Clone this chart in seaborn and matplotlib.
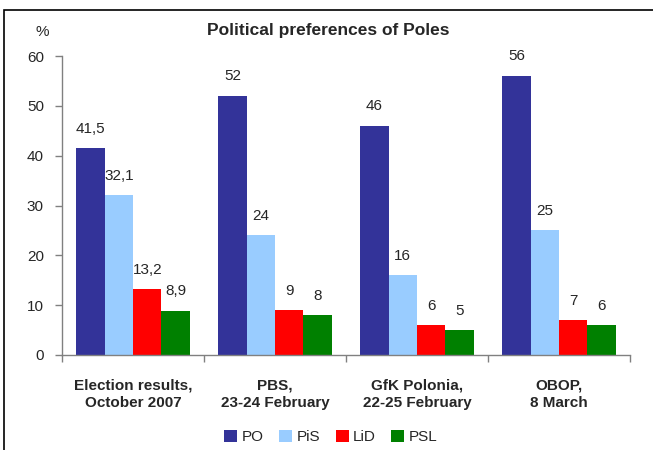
import pandas as pd
import matplotlib.pyplot as plt
import seaborn as sns
from matplotlib.patches import Rectangle

polls = ['Election results,\nOctober 2007', 'PBS,\n23-24 February',
         'GfK Polonia,\n22-25 February', 'OBOP,\n8 March']
parties = ['PO', 'PiS', 'LiD', 'PSL']
po = [41.5, 52, 46, 56]
pis = [32.1, 24, 16, 25]
lid = [13.2, 9, 6, 7]
psl = [8.9, 8, 5, 6]
colors = ['#333399', '#99CCFF', '#FF0000', '#008000']

rows = []
for party, vals in zip(parties, [po, pis, lid, psl]):
    for poll, v in zip(polls, vals):
        rows.append({'poll': poll, 'party': party, 'value': v})
df = pd.DataFrame(rows)

sns.set_style('white')
plt.rcParams['font.family'] = ['Liberation Sans', 'DejaVu Sans']

fig = plt.figure(figsize=(6.53, 4.5), dpi=100)
ax = fig.add_axes([62 / 653, 1 - 355 / 450, 568 / 653, 299 / 450])

sns.barplot(data=df, x='poll', y='value', hue='party', order=polls,
            hue_order=parties, palette=colors, saturation=1, width=0.8,
            linewidth=0, ax=ax, legend=True)

# value labels with decimal comma
for cont in ax.containers:
    labels = [f'{b.get_height():g}'.replace('.', ',') for b in cont]
    ax.bar_label(cont, labels=labels, padding=9, fontsize=11)

ax.set_ylim(0, 60)
ax.set_xlim(-0.5, 3.5)
ax.set_yticks(range(0, 61, 10))
ax.set_xlabel('')
ax.set_ylabel('')
ax.set_xticks(range(4))
ax.set_xticklabels(polls, fontweight='bold', fontsize=11, linespacing=1.35)
ax.set_xticks([-0.5, 0.5, 1.5, 2.5, 3.5], minor=True)
ax.tick_params(axis='x', which='major', length=0, pad=17)
ax.tick_params(axis='x', which='minor', length=5, width=1, color='#808080', direction='out', bottom=True)
ax.tick_params(axis='y', length=5, width=1, color='#808080', direction='out', left=True,
               labelsize=11, pad=8)

sns.despine(ax=ax)
for s in ['left', 'bottom']:
    ax.spines[s].set_color('#808080')
    ax.spines[s].set_linewidth(1)

ax.legend(loc='center', bbox_to_anchor=(331 / 653, 1 - 437 / 450),
          bbox_transform=fig.transFigure, ncol=4, frameon=False,
          handlelength=0.85, handleheight=0.85, handletextpad=0.3,
          columnspacing=1.0, fontsize=11)

fig.text(328 / 653, 1 - 31 / 450, 'Political preferences of Poles',
         ha='center', va='center', fontsize=12.5, fontweight='bold')
fig.text(42 / 653, 1 - 32 / 450, '%', ha='center', va='center', fontsize=11)

fig.add_artist(Rectangle((4 / 653, -0.2), 1.2, 1.2 - 9.5 / 450,
                         transform=fig.transFigure, fill=False,
                         edgecolor='black', linewidth=1.2))

fig.savefig('out.png', dpi=100)
